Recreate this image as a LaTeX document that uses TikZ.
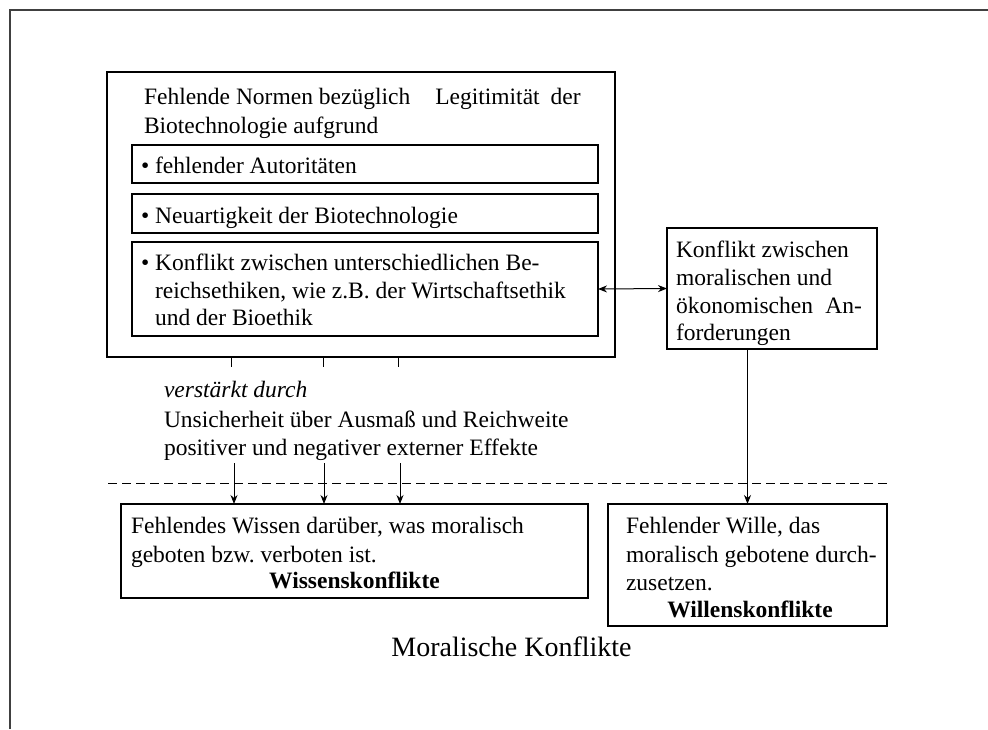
\documentclass[tikz,border=0pt]{standalone}
\usepackage{fontspec}
\setmainfont{Liberation Serif}
\usetikzlibrary{arrows.meta}
\frenchspacing
\begin{document}
\begin{tikzpicture}[x=1pt,y=-1pt,
  body/.style={anchor=base west, inner sep=0pt, outer sep=0pt, font=\fontsize{23.5}{28}\selectfont},
  centred/.style={anchor=base, inner sep=0pt, outer sep=0pt, font=\fontsize{23.5}{28}\selectfont},
  bigbox/.style={draw, line width=1.8pt, inner sep=0pt, outer sep=0pt},
  smallbox/.style={draw, line width=1.1pt, inner sep=0pt, outer sep=0pt},
  arr/.style={line width=1pt, -{Stealth[length=9pt,width=7pt]}},
  darr/.style={line width=1pt, {Stealth[length=9pt,width=7pt]}-{Stealth[length=9pt,width=7pt]}},
  stub/.style={line width=1pt},
  sep/.style={line width=1pt, dash pattern=on 9pt off 5pt}
]
\useasboundingbox (0,0) rectangle (988,729);

% open page frame: top and left edge only
\draw[line width=1.5pt, black!75] (10,729) -- (10,10) -- (988,10);

% main block with its three reasons
\node[bigbox, minimum width=508pt, minimum height=285pt] (main) at (361,214.5) {};
\node[smallbox, minimum width=466pt, minimum height=38pt] (r1) at (365,164) {};
\node[smallbox, minimum width=466pt, minimum height=39pt] (r2) at (365,213.5) {};
\node[smallbox, minimum width=466pt, minimum height=94pt] (r3) at (365,289) {};

\node[body] (title1) at (144,104) {Fehlende Normen bezüglich\hspace{25pt}Legitimität\hspace{11pt}der};
\node[body] (title2) at (144,133) {Biotechnologie aufgrund};
\node[body] (r1t) at (141,173) {• fehlender Autoritäten};
\node[body] (r2t) at (141,223) {• Neuartigkeit der Biotechnologie};
\node[body] (r3a) at (141,270) {• Konflikt zwischen unterschiedlichen Be-};
\node[body] (r3b) at (155,298) {reichsethiken, wie z.B. der Wirtschaftsethik};
\node[body] (r3c) at (155,325) {und der Bioethik};

% conflict between moral and economic requirements
\node[bigbox, line width=1.5pt, minimum width=210pt, minimum height=121pt] (econ) at (772,288.5) {};
\node[body] (e1) at (676,257) {Konflikt zwischen};
\node[body] (e2) at (676,285) {moralischen und};
\node[body] (e3) at (676,313) {\makebox[186pt][s]{ökonomischen An-}};
\node[body] (e4) at (676,340) {forderungen};

% amplifying factor
\node[body, font=\fontsize{23.5}{28}\selectfont\itshape] (amp1) at (164,397) {verstärkt durch};
\node[body] (amp2) at (164,427) {Unsicherheit über Ausmaß und Reichweite};
\node[body] (amp3) at (164,455) {positiver und negativer externer Effekte};

% separator
\coordinate (sepL) at (108,483);
\coordinate (sepR) at (888,483);
\draw[sep] (sepL) -- (sepR);

% resulting conflicts
\node[bigbox, minimum width=467pt, minimum height=94pt] (wissen) at (354.5,551) {};
\node[body] (w1) at (131,533) {Fehlendes Wissen darüber, was moralisch};
\node[body] (w2) at (131,562) {geboten bzw. verboten ist.};
\node[centred, font=\fontsize{23.5}{28}\selectfont\bfseries] (w3) at (354.5,588) {Wissenskonflikte};

\node[bigbox, line width=1.5pt, minimum width=279pt, minimum height=122pt] (willen) at (747.5,565) {};
\node[body] (v1) at (626,533) {Fehlender Wille, das};
\node[body] (v2) at (626,562) {moralisch gebotene durch-};
\node[body] (v3) at (626,590) {zusetzen.};
\node[centred, font=\fontsize{23.5}{28}\selectfont\bfseries] (v4) at (750,617) {Willenskonflikte};

\node[centred, font=\fontsize{28}{32}\selectfont] (caption) at (511.5,656) {Moralische Konflikte};

% connectors
\draw[darr] (r3.east) -- (econ.west);
\draw[arr] (econ.south -| willen.north) -- (willen.north);

\coordinate (k1) at (231,367);
\coordinate (k2) at (323,367);
\coordinate (k3) at (398,367);
\draw[stub] (main.south -| k1) -- (k1);
\draw[stub] (main.south -| k2) -- (k2);
\draw[stub] (main.south -| k3) -- (k3);

\coordinate (a1) at (234,463);
\coordinate (a2) at (324,463);
\coordinate (a3) at (400,463);
\draw[arr] (a1) -- (wissen.north -| a1);
\draw[arr] (a2) -- (wissen.north -| a2);
\draw[arr] (a3) -- (wissen.north -| a3);
\end{tikzpicture}
\end{document}
